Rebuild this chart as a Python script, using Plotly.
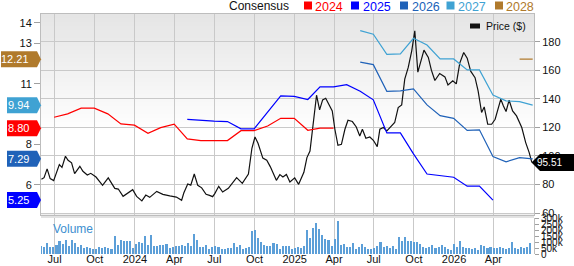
import plotly.graph_objects as go
import pandas as pd

# ---------------- data ----------------
price_dates = ["2023-06-01","2023-06-07","2023-06-14","2023-06-21","2023-06-29","2023-07-12","2023-07-18","2023-07-26",
"2023-08-01","2023-08-09","2023-08-16","2023-08-28","2023-09-04","2023-09-14","2023-09-22","2023-10-04","2023-10-19",
"2023-11-01","2023-11-16","2023-11-24","2023-12-05","2023-12-15","2023-12-27","2024-01-05","2024-01-17","2024-01-26",
"2024-02-04","2024-02-20","2024-03-05","2024-03-21","2024-04-05","2024-04-17","2024-04-22","2024-05-01","2024-05-08",
"2024-05-16","2024-05-24","2024-06-02","2024-06-12","2024-06-20","2024-06-27","2024-07-02","2024-07-11","2024-07-20",
"2024-08-02","2024-08-21","2024-09-03","2024-09-17","2024-09-25","2024-10-02","2024-10-09","2024-10-20","2024-10-29",
"2024-11-06","2024-11-20","2024-11-28","2024-12-05","2024-12-13","2024-12-21","2025-01-01","2025-01-10","2025-01-22",
"2025-01-29","2025-02-05","2025-02-11","2025-02-16","2025-02-20","2025-02-27","2025-03-06","2025-03-13","2025-03-21",
"2025-03-28","2025-04-03","2025-04-10","2025-04-18","2025-04-26","2025-05-03","2025-05-13","2025-05-22","2025-05-30",
"2025-06-05","2025-06-13","2025-06-22","2025-06-30","2025-07-09","2025-07-15","2025-07-23","2025-07-31","2025-08-07",
"2025-08-18","2025-08-26","2025-09-03","2025-09-10","2025-09-18","2025-09-26","2025-10-03","2025-10-10","2025-10-24",
"2025-11-03","2025-11-10","2025-11-18","2025-11-29","2025-12-11","2025-12-18","2025-12-29","2026-01-06","2026-01-14",
"2026-01-23","2026-01-31","2026-02-08","2026-02-18","2026-02-25","2026-03-05","2026-03-11","2026-03-19","2026-03-28",
"2026-04-05","2026-04-14","2026-04-18","2026-04-24","2026-04-30","2026-05-07","2026-05-15","2026-05-24","2026-06-05",
"2026-06-14","2026-06-22","2026-06-28"]
price_values = [83.65,84.84,91.0,84.14,82.74,93.97,92.07,99.79,96.98,95.23,87.65,92.77,89.26,86.67,87.86,85.26,79.44,
84.70,77.33,76.84,71.72,74.04,76.42,71.72,68.56,72.63,71.02,75.23,73.12,72.07,71.23,68.91,74.04,80.35,79.58,87.37,
79.44,77.68,73.12,72.42,71.51,73.62,78.74,74.74,77.33,84.84,80.84,87.37,105.4,113.33,108.91,98.53,96.98,92.56,82.95,
86.95,85.26,87.02,81.76,84.70,80.14,88.56,98.88,103.51,119.93,131.58,142.60,132.28,139.30,140.49,135.09,131.58,118.74,
107.51,108.21,118.74,125.05,124.14,120.35,114.04,118.74,112.42,113.33,111.02,106.6,118.74,119.93,117.54,119.93,123.44,
133.97,135.79,153.82,162.04,173.68,187.65,158.74,174.18,169.05,160.14,152.91,157.82,155.44,149.75,152.77,150.53,165.05,
172.56,168.56,159.44,154.88,145.61,130.46,134.39,122.25,122.25,125.75,136.77,139.79,135.09,131.16,139.09,131.58,128.07,
119.93,109.40,102.39,95.51]

eps2024_dates = ["2023-06-30","2023-07-31","2023-08-31","2023-09-30","2023-10-31","2023-11-30","2023-12-31","2024-01-31",
"2024-02-29","2024-03-31","2024-04-30","2024-05-31","2024-06-30","2024-07-31","2024-08-31","2024-09-30","2024-10-31",
"2024-11-30","2024-12-31","2025-01-31","2025-02-28","2025-03-31"]
eps2024_values = [9.34,9.51,9.79,9.79,9.51,9.01,8.95,8.55,8.83,9.00,8.27,8.19,8.19,8.19,8.68,8.68,8.91,9.29,9.29,8.70,8.80,8.80]

eps2025_dates = ["2024-04-30","2024-05-31","2024-06-30","2024-07-31","2024-08-31","2024-09-30","2024-10-31","2024-11-30",
"2024-12-31","2025-01-31","2025-02-28","2025-03-31","2025-04-30","2025-05-31","2025-06-30","2025-07-31","2025-08-31",
"2025-09-30","2025-10-31","2025-11-30","2025-12-31","2026-01-31","2026-02-28","2026-03-31"]
eps2025_values = [9.24,9.18,9.15,9.13,8.77,8.77,9.60,10.40,10.37,10.22,10.84,10.84,10.95,10.63,10.20,8.57,8.57,7.53,
6.54,6.46,6.38,5.94,5.94,5.25]

eps2026_dates = ["2025-05-31","2025-06-30","2025-07-31","2025-08-31","2025-09-30","2025-10-31","2025-11-30","2025-12-31",
"2026-01-31","2026-02-28","2026-03-31","2026-04-30","2026-05-31","2026-06-30"]
eps2026_values = [12.06,11.94,10.62,10.64,10.74,9.95,9.42,9.29,8.69,8.72,7.40,7.14,7.35,7.29]

eps2027_dates = eps2026_dates
eps2027_values = [13.62,13.44,12.45,12.47,13.24,12.91,12.22,12.22,11.68,11.68,10.44,10.15,10.11,9.94]

eps2028_dates = ["2026-05-31","2026-06-30"]
eps2028_values = [12.21,12.21]

volume_dates = [d.strftime("%Y-%m-%d") for d in pd.date_range("2023-06-01", periods=161, freq="7D")]
volume_k = [69,56,92,61,56,78,106,83,117,69,119,89,61,78,47,56,47,42,42,56,50,56,47,42,153,78,117,111,111,106,
47,83,97,92,153,75,161,69,64,75,78,83,47,61,69,69,75,69,89,69,167,119,61,58,78,42,61,69,56,42,42,50,53,89,61,75,42,50,
58,194,203,131,97,78,64,69,89,83,42,69,64,69,42,50,58,50,69,203,133,217,258,208,161,125,117,69,122,272,78,83,56,61,
92,42,56,83,61,42,45,47,69,97,61,67,50,67,42,139,105,140,110,110,100,100,80,61,47,56,75,47,61,75,56,42,33,83,61,110,
61,53,47,39,53,33,75,67,47,61,53,47,56,47,39,53,103,53,39,56,53,56,89]
volume_values = [v * 1000 for v in volume_k]

x_tick_dates = ["2023-07-01","2023-10-01","2024-01-01","2024-04-01","2024-07-01","2024-10-01","2025-01-01",
                "2025-04-01","2025-07-01","2025-10-01","2026-01-01","2026-04-01"]
x_tick_labels = ["Jul","Oct","2024","Apr","Jul","Oct","2025","Apr","Jul","Oct","2026","Apr"]
price_ticks = [60, 80, 100, 120, 140, 160, 180]
eps_ticks = [6, 8, 11, 13, 14]
vol_ticks = [0, 50000, 100000, 150000, 200000, 250000, 300000]
vol_tick_labels = ["0", "50k", "100k", "150k", "200k", "250k", "300k"]

series_names = ["2024", "2025", "2026", "2027", "2028"]
series_colors = ["#ff0000", "#0000ff", "#2062b8", "#3fa2d3", "#b07a2c"]

# ---------------- layout geometry (pixels) ----------------
W, H = 574, 266
ML, MR, MT, MB = 41, 40, 14, 12
PW, PH = W - ML - MR, H - MT - MB
def px(xp):
    return (xp - ML) / PW
def py(yp):
    return (H - MB - yp) / PH

MAIN_BOTTOM = 214.5
VOL_TOP = 218
FONT = "Liberation Sans, Arial, sans-serif"
GRID = "#c9c9c9"

fig = go.Figure()

# volume
fig.add_trace(go.Bar(x=volume_dates, y=volume_values, xaxis="x2", yaxis="y3",
                     marker=dict(color="#5c9fd8", line=dict(width=0)),
                     width=3.6 * 86400000, showlegend=False, hoverinfo="skip"))

eps_sets = [(eps2024_dates, eps2024_values), (eps2025_dates, eps2025_values), (eps2026_dates, eps2026_values),
            (eps2027_dates, eps2027_values), (eps2028_dates, eps2028_values)]
for (d, v), name, col in zip(eps_sets, series_names, series_colors):
    fig.add_trace(go.Scatter(x=d, y=v, mode="lines", name=name, xaxis="x", yaxis="y2",
                             line=dict(color=col, width=1.2), showlegend=False))

fig.add_trace(go.Scatter(x=price_dates, y=price_values, mode="lines", name="Price ($)", xaxis="x", yaxis="y",
                         line=dict(color="#111111", width=1.2), showlegend=False))

shapes = []
# gradient background in main panel
g_top, g_bot = 14, 130
nb = 29
for i in range(nb):
    y0 = g_top + (g_bot - g_top) * i / nb
    y1 = g_top + (g_bot - g_top) * (i + 1) / nb
    c = int(229 + (255 - 229) * (i + 0.5) / nb)
    shapes.append(dict(type="rect", xref="paper", yref="paper", x0=0, x1=1, y0=py(y1), y1=py(y0),
                       fillcolor=f"rgb({c},{c},{c})", line=dict(width=0), layer="below"))
# separator band between panels
shapes.append(dict(type="rect", xref="paper", yref="paper", x0=0, x1=1, y0=py(VOL_TOP), y1=py(MAIN_BOTTOM),
                   fillcolor="#e2e2e2", line=dict(width=0), layer="below"))

annotations = []
# legend on top
annotations.append(dict(text="Consensus", xref="paper", yref="paper", x=px(291), y=py(6), xanchor="right",
                        yanchor="middle", showarrow=False, font=dict(family=FONT, size=12, color="#111111")))
leg_sq = [304, 351, 400, 446.5, 495]
leg_tx = [313, 361, 409.5, 456, 504]
for name, col, sx, tx in zip(series_names, series_colors, leg_sq, leg_tx):
    shapes.append(dict(type="rect", xref="paper", yref="paper", x0=px(sx), x1=px(sx + 8), y0=py(9.5), y1=py(1.5),
                       fillcolor=col, line=dict(width=0)))
    annotations.append(dict(text=name, xref="paper", yref="paper", x=px(tx), y=py(6.5), xanchor="left",
                            yanchor="middle", showarrow=False, font=dict(family=FONT, size=12.5, color=col)))

# price legend inside
shapes.append(dict(type="rect", xref="paper", yref="paper", x0=px(470), x1=px(480), y0=py(28.5), y1=py(23.5),
                   fillcolor="#111111", line=dict(width=0)))
annotations.append(dict(text="Price ($)", xref="paper", yref="paper", x=px(484), y=py(26), xanchor="left",
                        yanchor="middle", showarrow=False, font=dict(family=FONT, size=10.5, color="#111111")))

# volume label
annotations.append(dict(text="Volume", xref="paper", yref="paper", x=px(51), y=py(229), xanchor="left",
                        yanchor="middle", showarrow=False, font=dict(family=FONT, size=12, color="#3d8fd0")))

# left badges (last consensus values)
last_eps = [eps2024_values[-1], eps2025_values[-1], eps2026_values[-1], eps2027_values[-1], eps2028_values[-1]]
for val, col in zip(last_eps, series_colors):
    txt = f"{val:.2f}"
    left = -40 if len(txt) > 4 else -34
    path = f"M 0 0 L -4 8 L {left} 8 L {left} -8 L -4 -8 Z"
    shapes.append(dict(type="path", xref="paper", yref="y2", xsizemode="pixel", ysizemode="pixel",
                       xanchor=0, yanchor=val, path=path, fillcolor=col, line=dict(width=0), layer="above"))
    annotations.append(dict(text=txt, xref="paper", yref="y2", x=0, y=val, xanchor="right", yanchor="middle",
                            xshift=-10, showarrow=False, font=dict(family=FONT, size=11, color="white")))

# right badge (last price)
last_price = price_values[-1]
shapes.append(dict(type="path", xref="paper", yref="y", xsizemode="pixel", ysizemode="pixel",
                   xanchor=1, yanchor=last_price, path="M -2.5 0 L 6 8.5 L 40 8.5 L 40 -8.5 L 6 -8.5 Z",
                   fillcolor="#000000", line=dict(width=0), layer="above"))
annotations.append(dict(text=f"{last_price:.2f}", xref="paper", yref="y", x=1, y=last_price, xanchor="right",
                        yanchor="middle", xshift=30, showarrow=False, font=dict(family=FONT, size=10, color="white")))

main_dom = [py(MAIN_BOTTOM), 1]
vol_dom = [0, py(VOL_TOP)]

fig.update_layout(
    width=W, height=H, margin=dict(l=ML, r=MR, t=MT, b=MB, autoexpand=False),
    paper_bgcolor="white", plot_bgcolor="white",
    font=dict(family=FONT, size=11, color="#111111"),
    showlegend=False, bargap=0,
    shapes=shapes, annotations=annotations,
    xaxis=dict(domain=[0, 1], anchor="y", type="date", range=["2023-05-31", "2026-07-03"], automargin=False,
               tickvals=x_tick_dates, showticklabels=False, showgrid=True, gridcolor=GRID, gridwidth=1,
               showline=True, linecolor="#bdbdbd", mirror=True, ticks="", zeroline=False),
    xaxis2=dict(domain=[0, 1], anchor="y3", type="date", matches="x", range=["2023-05-31", "2026-07-03"],
                automargin=False, ticklabelstandoff=-3,
                tickvals=x_tick_dates, ticktext=x_tick_labels, showgrid=True, gridcolor=GRID, gridwidth=1,
                ticks="", showline=False, tickfont=dict(family=FONT, size=11, color="#111111"), zeroline=False),
    yaxis=dict(domain=main_dom, anchor="x", side="right", range=[59, 199.5], tickvals=price_ticks, automargin=False,
               showgrid=True, gridcolor=GRID, gridwidth=1, ticks="outside", ticklen=5, tickcolor="#a0a0a0",
               showline=True, linecolor="#bdbdbd", zeroline=False,
               tickfont=dict(family=FONT, size=11, color="#111111")),
    yaxis2=dict(overlaying="y", anchor="x", side="left", range=[4.54, 14.44], tickvals=eps_ticks, automargin=False,
                showgrid=False, ticks="outside", ticklen=6, tickcolor="#a0a0a0", showline=True,
                linecolor="#bdbdbd", zeroline=False, tickfont=dict(family=FONT, size=11, color="#111111")),
    yaxis3=dict(domain=vol_dom, anchor="x2", side="right", range=[0, 300000], tickvals=vol_ticks, automargin=False,
                ticktext=vol_tick_labels, showgrid=False, ticks="outside", ticklen=4, tickcolor="#a0a0a0",
                showline=True, linecolor="#bdbdbd", zeroline=False,
                tickfont=dict(family=FONT, size=10, color="#111111")),
)

fig.write_html("out.html", config={"displayModeBar": False})
